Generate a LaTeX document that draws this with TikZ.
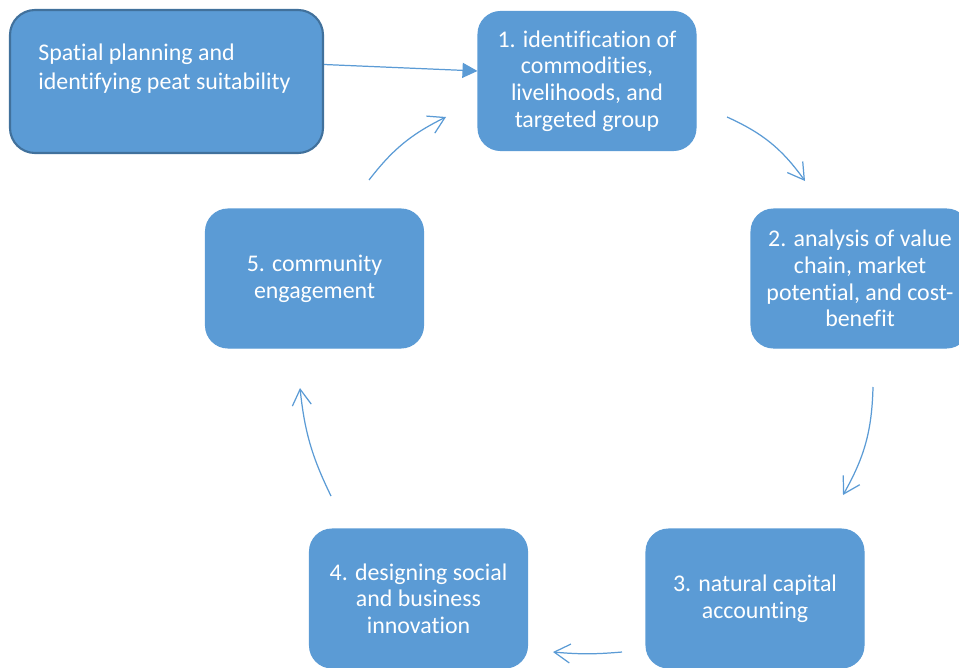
\documentclass[tikz,border=0pt]{standalone}
\usepackage{fontspec}
\setmainfont{Carlito}[Ligatures=NoCommon, Contextuals=NoAlternate, RawFeature={-clig;-dlig}]
\usetikzlibrary{arrows.meta}
\definecolor{boxFill}{HTML}{5B9BD5}
\definecolor{boxEdge}{HTML}{41719C}

\tikzset{
	stepBox/.style={shape=rectangle, rounded corners=0.45cm, fill=boxFill, draw=boxFill, line width=0.6pt,
		minimum width=4.36cm, minimum height=2.78cm, inner sep=0pt, align=center, text=white,
		font=\fontsize{13.6}{15.2}\selectfont},
	cycleArrow/.style={draw=boxFill, line width=0.7pt, -{Straight Barb[length=0.32cm, width=0.38cm]}}
}

\begin{document}
\begin{tikzpicture}
	\useasboundingbox (0, 0) rectangle (19.18, -13.34);

	% --- Ausgangspunkt (dunkler Rand) ---
	\node[shape=rectangle, rounded corners=0.5cm, fill=boxFill, draw=boxEdge, line width=1.2pt,
		minimum width=6.26cm, minimum height=2.86cm] (source) at (3.33, -1.63){};
	\node[anchor=north west, align=left, inner sep=0pt, text=white, font=\fontsize{13.6}{16.5}\selectfont]
		(sourceText) at (0.76, -0.88){Spatial planning and\\identifying peat suitability};

	% --- Zyklus ---
	\node[stepBox] (step1) at (11.74, -1.62){1. identification of\\commodities,\\livelihoods, and\\targeted group};
	\node[stepBox] (step2) at (17.2, -5.57){2. analysis of value\\chain, market\\potential, and cost-\\benefit};
	\node[stepBox] (step3) at (15.1, -11.97){3. natural capital\\accounting};
	\node[stepBox] (step4) at (8.37, -11.97){4. designing social\\and business\\innovation};
	\node[stepBox] (step5) at (6.29, -5.57){5. community\\engagement};

	% --- Pfeilenden zwischen den Kästen ---
	\coordinate (c1s) at (14.54, -2.34);
	\coordinate (c1e) at (16.1, -3.62);
	\coordinate (c2s) at (17.46, -7.74);
	\coordinate (c2e) at (16.86, -9.9);
	\coordinate (c3s) at (12.44, -13.04);
	\coordinate (c3e) at (11.06, -13.04);
	\coordinate (c4s) at (6.62, -9.92);
	\coordinate (c4e) at (6.0, -7.76);
	\coordinate (c5s) at (7.38, -3.6);
	\coordinate (c5e) at (8.92, -2.34);

	% --- Pfeile ---
	\draw[draw=boxFill, line width=0.7pt, -{Triangle[length=0.3cm, width=0.3cm]}]
		([yshift=0.34cm]source.east) -- ([yshift=0.2cm]step1.west);
	\draw[cycleArrow] (c1s) to[bend left=15] (c1e);
	\draw[cycleArrow] (c2s) to[bend left=14] (c2e);
	\draw[cycleArrow] (c3s) to[bend left=5] (c3e);
	\draw[cycleArrow] (c4s) to[bend left=10] (c4e);
	\draw[cycleArrow] (c5s) to[bend left=13] (c5e);

\end{tikzpicture}
\end{document}
